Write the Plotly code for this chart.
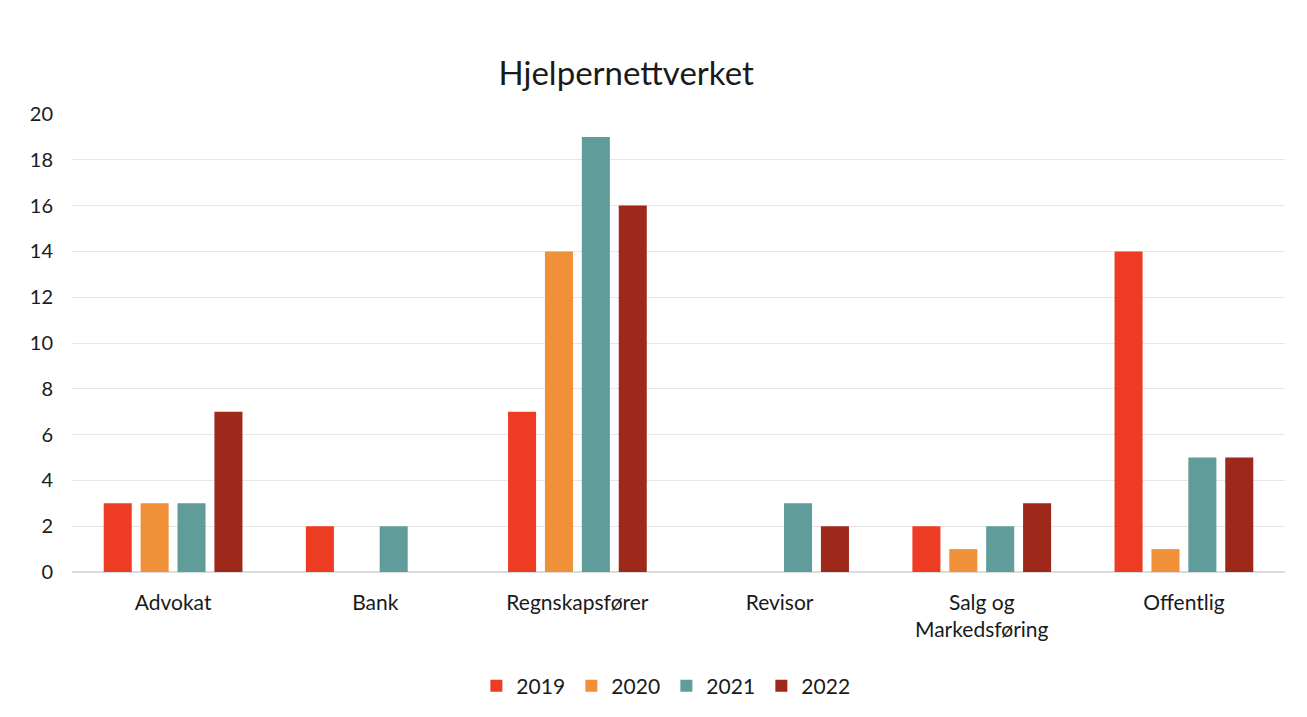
import plotly.graph_objects as go

categories = ["Advokat", "Bank", "Regnskapsfører", "Revisor", "Salg og<br>Markedsføring", "Offentlig"]
years = ["2019", "2020", "2021", "2022"]
v2019 = [3, 2, 7, 0, 2, 14]
v2020 = [3, 0, 14, 0, 1, 1]
v2021 = [3, 2, 19, 3, 2, 5]
v2022 = [7, 0, 16, 2, 3, 5]
colors = ["#EE3B24", "#F0913A", "#5F9C9A", "#9E281A"]

fig = go.Figure()
for name, vals, c in zip(years, [v2019, v2020, v2021, v2022], colors):
    fig.add_trace(go.Bar(name=name, x=categories, y=vals, marker=dict(color=c, line=dict(width=0))))

font = "Lato, 'Open Sans', sans-serif"
fig.update_layout(
    width=1307, height=717,
    barmode="group", bargap=0.27, bargroupgap=0.24,
    paper_bgcolor="white", plot_bgcolor="white",
    margin=dict(l=64, r=30, t=106, b=153),
    title=dict(text="Hjelpernettverket", x=0.473, xanchor="center", y=0.909, yanchor="middle",
               font=dict(family=font, size=33, color="#1a1a1a")),
    font=dict(family=font, size=21, color="#1a1a1a"),
    xaxis=dict(showline=False, ticks="", tickfont=dict(size=21), ticklabelstandoff=16),
    yaxis=dict(range=[0, 20], dtick=2, showgrid=True, gridcolor="#e6e6e6", gridwidth=1,
               zeroline=True, zerolinecolor="#dcdcdc", tickfont=dict(size=20), ticklabelstandoff=18),
    legend=dict(orientation="h", x=0.49, xanchor="center", y=-0.249, yanchor="middle",
                font=dict(size=21), itemwidth=30, entrywidth=50, entrywidthmode="pixels",
                traceorder="normal"),
    showlegend=True,
)
fig.write_html("out.html")
